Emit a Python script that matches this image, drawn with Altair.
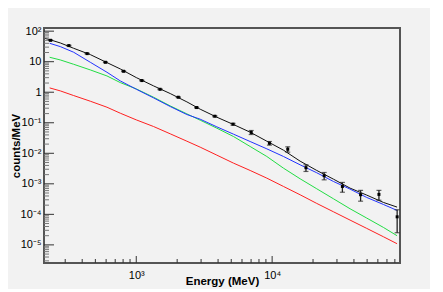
import altair as alt
import pandas as pd

# ---- data points (Energy in MeV, counts/MeV, symmetric error) ----
energy = [234, 319, 435, 593, 807, 1099, 1497, 2039, 2779, 3784,
          5152, 7015, 9550, 13030, 17740, 24150, 32890, 44770, 61090, 83180]
counts = [50.2, 33.7, 18.4, 9.57, 4.86, 2.41, 1.25, 0.686, 0.315, 0.164,
          0.0898, 0.0485, 0.0214, 0.0136, 3.37e-3, 1.85e-3, 8.2e-4, 4.4e-4, 4.5e-4, 8.3e-5]
errors = [1.5, 1.0, 0.55, 0.29, 0.15, 0.07, 0.04, 0.022, 0.011, 0.007,
          0.006, 0.0073, 0.0029, 0.0027, 8.3e-4, 5.0e-4, 2.9e-4, 1.7e-4, 1.6e-4, 5.8e-5]

# ---- model curves ----
curve_energy = [230.5, 276.2, 346.1, 459.0, 608.5, 762.7, 1000, 1341, 1778, 2358, 2955,
                3919, 5196, 6889, 9138, 12115, 16068, 21300, 28250, 37450, 49670, 65860, 83040]
blue_vals = [40.1, 31.2, 20.4, 9.58, 4.51, 2.35, 1.254, 0.653, 0.340, 0.186, 0.1308,
             0.0734, 0.0423, 0.0243, 0.0140, 7.86e-3, 4.19e-3, 2.30e-3, 1.195e-3, 6.71e-4,
             3.58e-4, 2.11e-4, 1.345e-4]
green_vals = [13.96, 11.42, 8.24, 5.38, 3.42, 2.07, 1.285, 0.686, 0.357, 0.1955, 0.1213,
              0.0664, 0.0354, 0.01669, 7.86e-3, 3.26e-3, 1.461e-3, 6.88e-4, 3.24e-4, 1.525e-4,
              7.55e-5, 3.74e-5, 1.995e-5]
red_vals = [1.386, 1.106, 0.778, 0.508, 0.323, 0.2056, 0.1244, 0.0753, 0.0434, 0.0249, 0.01587,
            8.69e-3, 4.76e-3, 2.74e-3, 1.536e-3, 8.20e-4, 4.38e-4, 2.28e-4, 1.216e-4, 6.49e-5,
            3.47e-5, 1.85e-5, 1.092e-5]
total_energy = [211.8] + curve_energy
total_vals = [58.4, 52.8, 41.1, 27.5, 17.07, 9.35, 5.80, 3.02, 1.612, 0.905, 0.483, 0.278,
              0.152, 0.0876, 0.0491, 0.0249, 0.01266, 5.53e-3, 2.74e-3, 1.425e-3, 7.23e-4,
              4.27e-4, 2.46e-4, 1.73e-4]

# ---- axes ----
x_domain = [209.4, 87300]
y_domain = [2.55e-6, 127]
x_major = [1000, 10000]
x_labels = ["10\u00b3", "10\u2074"]
x_minor = [300, 400, 500, 600, 700, 800, 900,
           2000, 3000, 4000, 5000, 6000, 7000, 8000, 9000,
           20000, 30000, 40000, 50000, 60000, 70000, 80000]
y_major = [1e-5, 1e-4, 1e-3, 1e-2, 1e-1, 1, 10, 100]
y_labels = ["10\u207b\u2075", "10\u207b\u2074", "10\u207b\u00b3", "10\u207b\u00b2",
            "10\u207b\u00b9", "1", "10", "10\u00b2"]
y_minor = []
for k in range(-6, 3):
    for m in range(2, 10):
        v = m * 10.0 ** k
        if y_domain[0] < v < y_domain[1]:
            y_minor.append(v)

W, H = 356, 235
FONT = "Liberation Sans"

xs = alt.Scale(type="log", domain=x_domain, nice=False)
ys = alt.Scale(type="log", domain=y_domain, nice=False)

y_expr = "[" + ",".join("'%s'" % s for s in y_labels) + "][round(log(datum.value)/LN10)+5]"
x_expr = "[" + ",".join("'%s'" % s for s in x_labels) + "][round(log(datum.value)/LN10)-3]"

pts = pd.DataFrame({"E": energy, "c": counts, "e": errors})
pts["lo"] = pts["c"] - pts["e"]
pts["hi"] = pts["c"] + pts["e"]

curves = pd.DataFrame({"E": curve_energy, "blue": blue_vals, "green": green_vals, "red": red_vals})
tot = pd.DataFrame({"E": total_energy, "v": total_vals})

xenc = alt.X("E:Q", scale=xs,
             axis=alt.Axis(values=x_major, labelExpr=x_expr, ticks=False, domain=False, grid=False,
                           labelFont=FONT, labelFontSize=11, labelColor="#000", labelPadding=6,
                           title="Energy (MeV)", titleFont=FONT, titleFontSize=11.5,
                           titleFontWeight="bold", titleY=21, titleBaseline="alphabetic",
                           titleColor="#000"))

base_axis_y = alt.Axis(values=y_major, labelExpr=y_expr, ticks=False, domain=False, grid=False,
                       labelFont=FONT, labelFontSize=11, labelColor="#000", labelPadding=3,
                       title="counts/MeV", titleFont=FONT, titleFontSize=11.5,
                       titleFontWeight="bold", titleX=-25, titleY=H / 2, titleAngle=270,
                       titleAlign="center", titleBaseline="alphabetic", titleColor="#000")


def line(df, field, color):
    return alt.Chart(df).mark_line(color=color, strokeWidth=1, clip=True).encode(
        x=alt.X("E:Q", scale=xs), y=alt.Y(f"{field}:Q", scale=ys))


green = line(curves, "green", "#22dd44")
red = line(curves, "red", "#ff2020")
blue = line(curves, "blue", "#2233ff")
total = alt.Chart(tot).mark_line(color="#111", strokeWidth=1, clip=True).encode(
    x=xenc, y=alt.Y("v:Q", scale=ys, axis=base_axis_y))

bars = alt.Chart(pts).mark_rule(color="#222", strokeWidth=1.3).encode(
    x=alt.X("E:Q", scale=xs), y=alt.Y("lo:Q", scale=ys), y2="hi:Q")
caps_hi = alt.Chart(pts).mark_tick(color="#222", orient="horizontal", size=5, thickness=1.2).encode(
    x=alt.X("E:Q", scale=xs), y=alt.Y("hi:Q", scale=ys))
caps_lo = alt.Chart(pts).mark_tick(color="#222", orient="horizontal", size=5, thickness=1.2).encode(
    x=alt.X("E:Q", scale=xs), y=alt.Y("lo:Q", scale=ys))
marks = alt.Chart(pts).mark_square(color="#000", size=9, opacity=1).encode(
    x=alt.X("E:Q", scale=xs), y=alt.Y("c:Q", scale=ys))

ymaj = alt.Chart(pd.DataFrame({"v": y_major})).mark_rule(color="#333", strokeWidth=1).encode(
    y=alt.Y("v:Q", scale=ys), x=alt.value(0), x2=alt.value(10))
ymin = alt.Chart(pd.DataFrame({"v": y_minor})).mark_rule(color="#777", strokeWidth=1).encode(
    y=alt.Y("v:Q", scale=ys), x=alt.value(0), x2=alt.value(5))
xmaj = alt.Chart(pd.DataFrame({"v": x_major})).mark_rule(color="#333", strokeWidth=1).encode(
    x=alt.X("v:Q", scale=xs), y=alt.value(H), y2=alt.value(H - 7))
xmin = alt.Chart(pd.DataFrame({"v": x_minor})).mark_rule(color="#333", strokeWidth=1).encode(
    x=alt.X("v:Q", scale=xs), y=alt.value(H), y2=alt.value(H - 4))

chart = alt.layer(total, ymin, ymaj, xmin, xmaj, green, red, blue, bars, caps_hi, caps_lo, marks).properties(
    width=W, height=H, background="#f2f2f2",
    padding={"left": 36, "top": 20, "right": 30, "bottom": 26},
    autosize=alt.AutoSizeParams(type="none"),
).configure_view(stroke="#555", strokeWidth=2)

chart.save("out.html", embed_options={"renderer": "svg", "actions": False})
